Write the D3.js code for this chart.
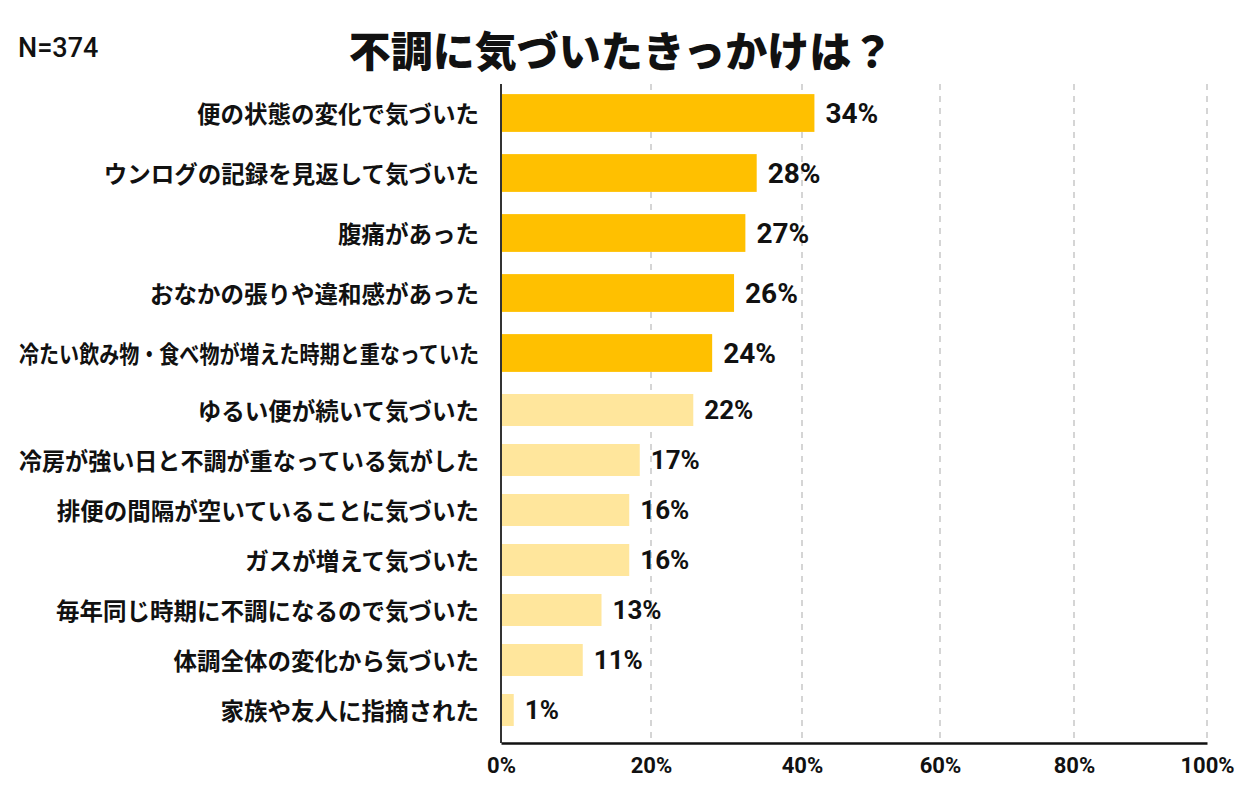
<!DOCTYPE html>
<html lang="ja">
<head>
<meta charset="utf-8">
<script src="https://cdn.jsdelivr.net/npm/d3@7"></script>
<style>
  html, body { margin: 0; padding: 0; background: #fff; }
  svg { display: block; }
</style>
</head>
<body>
<svg id="chart" width="1242" height="800"></svg>
<script>
// ---- data ----
const titleText = "不調に気づいたきっかけは？";
const sampleText = "N=374";
const categories = [
  "便の状態の変化で気づいた",
  "ウンログの記録を見返して気づいた",
  "腹痛があった",
  "おなかの張りや違和感があった",
  "冷たい飲み物・食べ物が増えた時期と重なっていた",
  "ゆるい便が続いて気づいた",
  "冷房が強い日と不調が重なっている気がした",
  "排便の間隔が空いていることに気づいた",
  "ガスが増えて気づいた",
  "毎年同じ時期に不調になるので気づいた",
  "体調全体の変化から気づいた",
  "家族や友人に指摘された"
];
// bar lengths as drawn against the axis (in %)
const barValues = [41.8, 34.0, 32.5, 31.0, 28.1, 25.6, 18.5, 17.1, 17.1, 13.4, 10.9, 1.7];
// printed value labels
const valueLabels = ["34%", "28%", "27%", "26%", "24%", "22%", "17%", "16%", "16%", "13%", "11%", "1%"];
// number of highlighted (dark) bars at the top
const highlightCount = 5;
const xTicks = [0, 20, 40, 60, 80, 100];
const xTickLabels = ["0%", "20%", "40%", "60%", "80%", "100%"];

// ---- layout ----
const svg = d3.select("#chart");
const plotTop = 84, plotBottom = 743;
const x = d3.scaleLinear().domain(xTicks).range([501, 651, 802, 940, 1074, 1207]);

const topIdx = d3.range(highlightCount);
const botIdx = d3.range(highlightCount, categories.length);
const yTop = d3.scaleBand().domain(topIdx).range([83, 383]).paddingInner(0.37).paddingOuter(0.185);
const yBot = d3.scaleBand().domain(botIdx).range([385, 735]).paddingInner(0.36).paddingOuter(0.18);
const yScale = i => (i < highlightCount ? yTop : yBot);

const data = categories.map((c, i) => ({ i, c, v: barValues[i], lab: valueLabels[i], hi: i < highlightCount }));

const fontJP = "'Noto Sans CJK JP', 'Noto Sans', sans-serif";
const fontNum = "Roboto, 'Noto Sans', sans-serif";

// title & N
svg.append("text")
  .attr("x", 621).attr("y", 48)
  .attr("text-anchor", "middle").attr("dominant-baseline", "central")
  .style("font-family", fontJP).style("font-weight", 900).style("font-size", "42px")
  .attr("fill", "#111")
  .text(titleText);

svg.append("text")
  .attr("x", 18).attr("y", 57)
  .style("font-family", fontNum).style("font-weight", 500).style("font-size", "27px")
  .attr("fill", "#111")
  .text(sampleText);

// gridlines
svg.append("g").selectAll("line")
  .data(xTicks.filter(t => t > 0))
  .join("line")
  .attr("x1", d => x(d)).attr("x2", d => x(d))
  .attr("y1", plotTop).attr("y2", plotBottom)
  .attr("stroke", "#c8c8c8").attr("stroke-width", 1.5)
  .attr("stroke-dasharray", "6,6");

// bars
svg.append("g").selectAll("rect")
  .data(data)
  .join("rect")
  .attr("x", x(0))
  .attr("y", d => yScale(d.i)(d.i))
  .attr("width", d => x(d.v) - x(0))
  .attr("height", d => yScale(d.i).bandwidth())
  .attr("fill", d => d.hi ? "#FFC000" : "#FFE69C");

// value labels
svg.append("g").selectAll("text")
  .data(data)
  .join("text")
  .attr("x", d => x(d.v) + 11)
  .attr("y", d => yScale(d.i)(d.i) + yScale(d.i).bandwidth() / 2)
  .attr("dominant-baseline", "central")
  .style("font-family", fontNum).style("font-weight", 700)
  .style("font-size", d => d.hi ? "28px" : "26px")
  .attr("fill", "#111")
  .text(d => d.lab);

// category labels
const catG = svg.append("g");
catG.selectAll("text")
  .data(data)
  .join("text")
  .attr("x", 479)
  .attr("y", d => yScale(d.i)(d.i) + yScale(d.i).bandwidth() / 2)
  .attr("text-anchor", "end")
  .attr("dominant-baseline", "central")
  .style("font-family", fontJP).style("font-weight", 700).style("font-size", "23.5px")
  .attr("fill", "#111")
  .text(d => d.c)
  .each(function () {
    const maxW = 460;
    if (this.getComputedTextLength() > maxW) {
      d3.select(this).attr("textLength", maxW).attr("lengthAdjust", "spacingAndGlyphs");
    }
  });

// axes
const xAxis = d3.axisBottom(x).tickValues(xTicks).tickFormat((d, i) => xTickLabels[i]).tickSize(0).tickPadding(14);
const gx = svg.append("g").attr("transform", `translate(0,${plotBottom})`).call(xAxis);
gx.select(".domain").attr("stroke", "#111").attr("stroke-width", 2.5);
gx.selectAll("text")
  .style("font-family", fontNum).style("font-weight", 700).style("font-size", "22px")
  .attr("fill", "#111");

svg.append("line")
  .attr("x1", x(0)).attr("x2", x(0))
  .attr("y1", plotTop).attr("y2", plotBottom)
  .attr("stroke", "#333").attr("stroke-width", 2);
</script>
</body>
</html>
